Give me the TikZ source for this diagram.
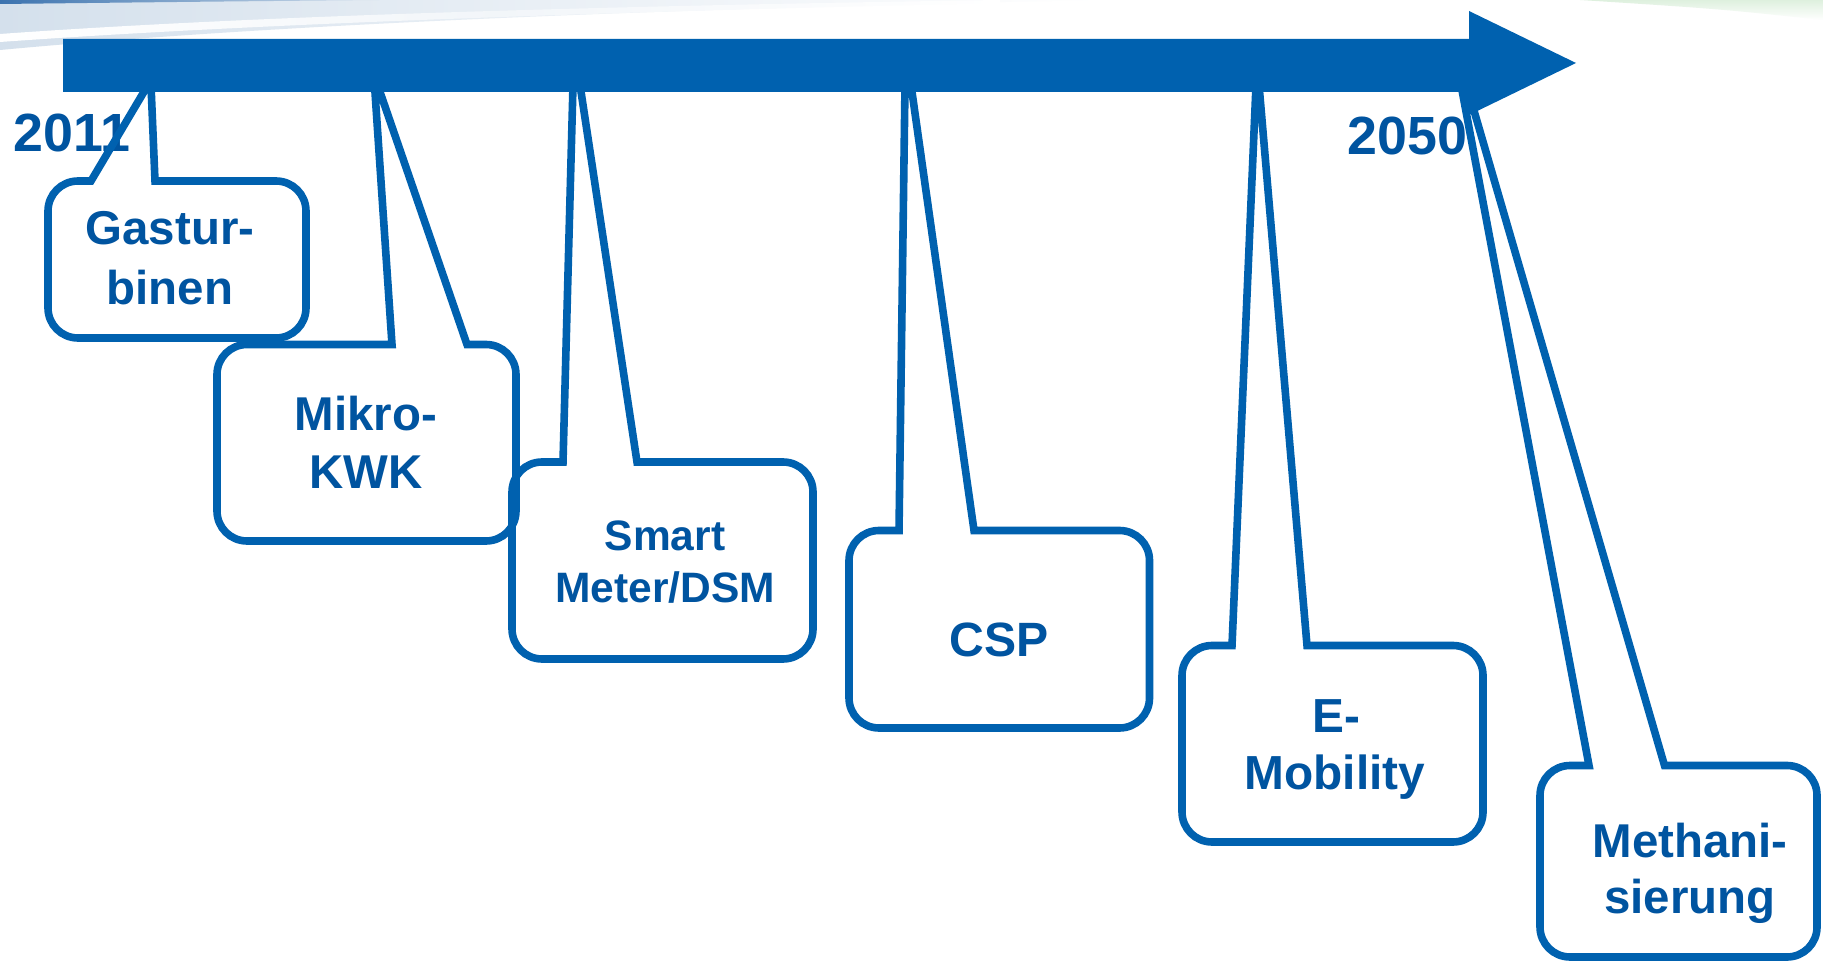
\documentclass[tikz,border=0pt]{standalone}
\usepackage{fontspec}
\setmainfont{Liberation Sans}
\definecolor{tlblue}{RGB}{0,97,175}
\definecolor{txblue}{RGB}{0,84,160}
\definecolor{swoosh}{RGB}{212,224,236}
\definecolor{swooshdark}{RGB}{60,115,175}
\definecolor{greentint}{RGB}{222,240,222}
% callout outline: #1 L, #2 T, #3 R, #4 B, #5 tail base left, #6 tail base right, #7 apex left x, #8 apex right x
\newcommand{\cbox}[8]{%
  \draw[callline] (#6,#2) -- ({#3-30},#2) arc[start angle=-90,end angle=0,radius=30]
    -- (#3,{#4-30}) arc[start angle=0,end angle=90,radius=30]
    -- ({#1+30},#4) arc[start angle=90,end angle=180,radius=30]
    -- (#1,{#2+30}) arc[start angle=180,end angle=270,radius=30]
    -- (#5,#2) -- (#7,85) -- (#8,85) -- cycle;}
\begin{document}
\begin{tikzpicture}[x=0.1mm,y=-0.1mm,
  callline/.style={draw=tlblue,line width=0.76mm,line join=miter},
  yearlbl/.style={text=txblue,font=\bfseries\fontsize{15.3}{18}\selectfont,inner sep=0pt,anchor=base west},
  calltxt/.style={text=txblue,inner sep=0pt,anchor=base}]
\useasboundingbox (0,0) rectangle (1823,961);
\fill[white] (0,0) rectangle (1823,961);
% background swoosh
\shade[left color=swoosh,right color=white] (0,0) -- (1100,0) .. controls (700,8) and (300,22) .. (0,50) -- cycle;
\shade[left color=white,right color=white,middle color=white!70!swoosh] (0,34) .. controls (250,16) and (600,6) .. (1000,0) -- (1000,3) .. controls (600,12) and (250,24) .. (0,42) -- cycle;
\shade[left color=swooshdark,right color=swoosh] (0,0) -- (380,0) .. controls (220,1.5) .. (0,4) -- cycle;
\shade[top color=greentint,bottom color=white] (1580,0) -- (1823,0) -- (1823,20) .. controls (1720,9) .. (1580,0) -- cycle;
% year labels
\node[yearlbl] (y2011) at (13,152) {2011};
\node[yearlbl] (y2050) at (1347,155) {2050};
% callouts
\cbox{48}{181}{306}{338}{91}{155}{148}{151}
\cbox{217}{344.5}{516}{541}{392}{467}{374.5}{377.6}
\cbox{512}{462}{813}{659}{563}{637}{573}{580}
\cbox{849}{530.5}{1149.5}{728}{899}{974}{905}{911}
\cbox{1182}{645.5}{1483}{842}{1232}{1307}{1256}{1259}
\cbox{1540}{765.5}{1817}{957}{1589}{1664.5}{1461}{1466.5}
% timeline arrow
\fill[tlblue] (63,39) -- (1469,39) -- (1469,11) -- (1576,63) -- (1469,115) -- (1469,92) -- (63,92) -- cycle;
% callout texts
\node[calltxt,font=\bfseries\fontsize{13.5}{16}\selectfont] (gasA) at (170,245) {Gastur-};
\node[calltxt,font=\bfseries\fontsize{13.5}{16}\selectfont] (gasB) at (170,305) {binen};
\node[calltxt,font=\bfseries\fontsize{13.5}{16}\selectfont] (mikA) at (366,431) {Mikro-};
\node[calltxt,font=\bfseries\fontsize{13.5}{16}\selectfont] (mikB) at (366,488) {KWK};
\node[calltxt,font=\bfseries\fontsize{12.1}{14}\selectfont] (smA) at (665,550) {Smart};
\node[calltxt,font=\bfseries\fontsize{12.1}{14}\selectfont] (smB) at (665,602) {Meter/DSM};
\node[calltxt,font=\bfseries\fontsize{13.7}{16}\selectfont] (csp) at (999,656) {CSP};
\node[calltxt,font=\bfseries\fontsize{13.6}{16}\selectfont] (emA) at (1336,732) {E-};
\node[calltxt,font=\bfseries\fontsize{13.6}{16}\selectfont] (emB) at (1335,789) {Mobility};
\node[calltxt,font=\bfseries\fontsize{13.5}{16}\selectfont] (meA) at (1690,857) {Methani-};
\node[calltxt,font=\bfseries\fontsize{13.5}{16}\selectfont] (meB) at (1690,913) {sierung};
\end{tikzpicture}
\end{document}
